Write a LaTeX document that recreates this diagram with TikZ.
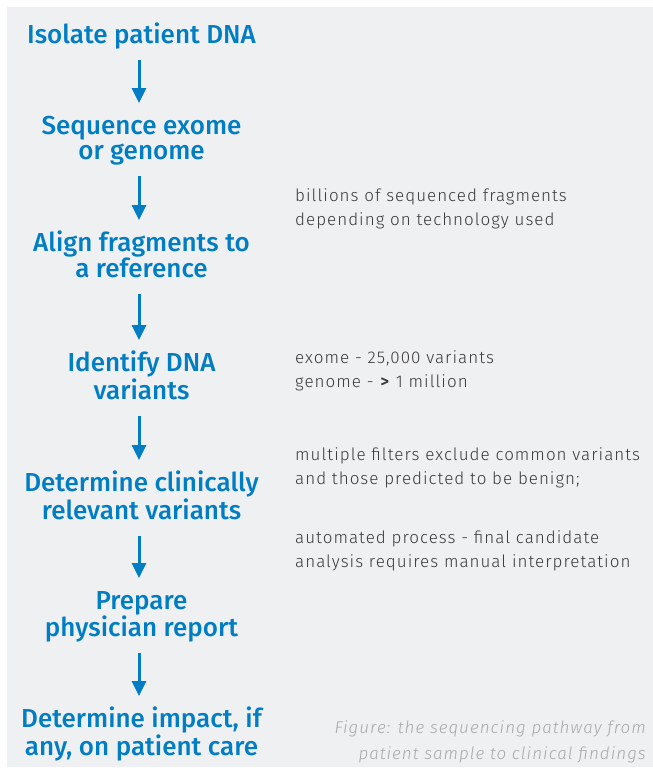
\documentclass[tikz,border=0pt]{standalone}
\usepackage{fontspec}
\usetikzlibrary{arrows.meta}
\IfFontExistsTF{Fira Sans Medium}{\newfontfamily\bluefont{Fira Sans Medium}}{\newfontfamily\bluefont{Fira Sans}}
\IfFontExistsTF{Fira Sans Light}{\newfontfamily\greyfont[LetterSpace=6]{Fira Sans Light}}{\newfontfamily\greyfont[LetterSpace=6]{Fira Sans}}
\definecolor{stepblue}{HTML}{007DC3}
\definecolor{notegray}{HTML}{3A3A3A}
\definecolor{capgray}{HTML}{A8A8A8}
\definecolor{panelgray}{HTML}{EFF0F2}
\newcommand\tstr{\rule{0pt}{20pt}}
\newcommand\bstr{\rule[-9pt]{0pt}{9pt}}
\newcommand\ntstr{\rule{0pt}{14pt}}
\begin{document}
\begin{tikzpicture}[x=1pt,y=-1pt,
  stepnode/.style={anchor=north, inner sep=0pt, align=center, text=stepblue,
    font=\bluefont\fontsize{26}{25.5}\selectfont},
  note/.style={anchor=north west, inner sep=0pt, align=left, text=notegray,
    font=\greyfont\fontsize{17}{24.5}\selectfont},
  captext/.style={anchor=north east, inner sep=0pt, align=right, text=capgray,
    font=\greyfont\itshape\fontsize{17}{26}\selectfont},
  flowarrow/.style={draw=stepblue, line width=3pt, -{Triangle[width=14pt,length=15pt]},
    shorten <=7pt, shorten >=11pt}]
\useasboundingbox (0,0) rectangle (653,774);
\fill[panelgray] (7,7) rectangle (653,767);
\node[stepnode] (s1) at (141.5,23) {\tstr Isolate patient DNA\bstr};
\node[stepnode] (s2) at (141.5,114) {\tstr Sequence exome\\or genome\bstr};
\node[stepnode] (s3) at (141.5,231) {\tstr Align fragments to\\a reference\bstr};
\node[stepnode] (s4) at (141.5,351) {\tstr Identify DNA\\variants\bstr};
\node[stepnode] (s5) at (141.5,471) {\tstr Determine clinically\\relevant variants\bstr};
\node[stepnode] (s6) at (141.5,589) {\tstr Prepare\\physician report\bstr};
\node[stepnode] (s7) at (141.5,707) {\tstr Determine impact, if\\any, on patient care\bstr};
\foreach \a/\b in {s1/s2,s2/s3,s3/s4,s4/s5,s5/s6,s6/s7}
  \draw[flowarrow] ([xshift=-2.5pt]\a.south) -- ([xshift=-2.5pt]\b.north);
\node[note] (n1) at (295,187) {\ntstr billions of sequenced fragments\\depending on technology used};
\node[note] (n2) at (295,349) {\ntstr exome - 25,000 variants\\genome - \textbf{>} 1 million};
\node[note] (n3) at (295,446) {\ntstr multiple filters exclude common variants\\and those predicted to be benign;};
\node[note] (n4) at (295,529) {\ntstr automated process - final candidate\\analysis requires manual interpretation};
\node[captext] (cap) at (646,719) {\ntstr Figure: the sequencing pathway from\\patient sample to clinical findings};
\end{tikzpicture}
\end{document}
